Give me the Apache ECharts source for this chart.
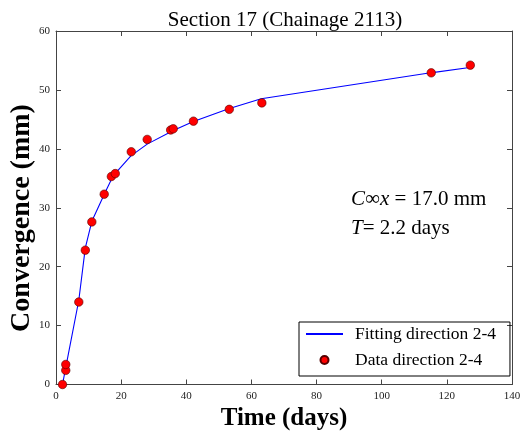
<!DOCTYPE html>
<html>
<head>
<meta charset="utf-8">
<script src="https://cdn.jsdelivr.net/npm/echarts@6/dist/echarts.min.js"></script>
<style>html,body{margin:0;padding:0;background:#fff}#c{width:521px;height:433px}</style>
</head>
<body>
<div id="c"></div>
<script>
// Fitted curve (direction 2-4)
const fitTime = [2, 3, 7, 9, 11, 15, 17, 18, 23, 28, 35, 36, 42, 53, 63, 115, 127];
const fitConv = [0, 2.9, 14.3, 23.2, 27.7, 32.5, 34.8, 35.7, 38.8, 40.8, 42.8, 43.1, 44.6, 46.8, 48.5, 52.9, 53.8];
// Measured data (direction 2-4)
const dataTime = [2, 3, 3, 7, 9, 11, 14.8, 17, 18.2, 23.1, 28, 35.2, 36, 42.2, 53.2, 63.2, 115.2, 127.2];
const dataConv = [0, 2.4, 3.4, 14.0, 22.8, 27.6, 32.3, 35.3, 35.8, 39.5, 41.6, 43.2, 43.4, 44.7, 46.7, 47.8, 52.9, 54.2];
// Axis ranges / ticks
const xMin = 0, xMax = 140, xStep = 20;
const yMin = 0, yMax = 60, yStep = 10;
const titleText = 'Section 17 (Chainage 2113)';
const xName = 'Time (days)';
const yName = 'Convergence (mm)';
const fitName = 'Fitting direction 2-4';
const dataName = 'Data direction 2-4';

const serif = 'Liberation Serif, Times New Roman, serif';
const chart = echarts.init(document.getElementById('c'), null, {renderer: 'canvas'});
const axisLineStyle = {color: '#444', width: 1};
const mkX = (pos, show) => ({
  type: 'value', min: xMin, max: xMax, interval: xStep, position: pos,
  axisLine: {show: true, onZero: false, lineStyle: axisLineStyle},
  axisTick: {show: true, inside: true, length: 5, lineStyle: axisLineStyle},
  axisLabel: {show: show, color: '#222', fontFamily: serif, fontSize: 11, margin: 6},
  splitLine: {show: false}
});
const mkY = (pos, show) => ({
  type: 'value', min: yMin, max: yMax, interval: yStep, position: pos,
  axisLine: {show: true, onZero: false, lineStyle: axisLineStyle},
  axisTick: {show: true, inside: true, length: 5, lineStyle: axisLineStyle},
  axisLabel: {show: show, color: '#222', fontFamily: serif, fontSize: 11, margin: 6},
  splitLine: {show: false}
});
const xa = mkX('bottom', true);
xa.name = xName; xa.nameLocation = 'middle'; xa.nameGap = 19;
xa.nameTextStyle = {fontFamily: serif, fontWeight: 'bold', fontSize: 25, color: '#000'};

chart.setOption({
  animation: false,
  backgroundColor: '#fff',
  title: {text: titleText, left: 280, top: 5, textAlign: 'center',
    textStyle: {fontFamily: serif, fontWeight: 'normal', fontSize: 21, color: '#000'}},
  grid: {left: 56, right: 9, top: 31, bottom: 48.5, containLabel: false, outerBoundsMode: 'none'},
  xAxis: [xa, mkX('top', false)],
  yAxis: [mkY('left', true), mkY('right', false)],
  legend: {
    orient: 'vertical', left: 299, top: 322,
    itemWidth: 37, itemHeight: 8, itemGap: 8,
    padding: [3, 14, 7, 6],
    borderColor: '#000', borderWidth: 1,
    textStyle: {fontFamily: serif, fontSize: 17.5, color: '#000', lineHeight: 18, padding: [0, 0, 0, 7]},
    data: [
      {name: fitName, itemStyle: {color: 'rgba(0,0,0,0)', borderColor: 'rgba(0,0,0,0)', borderWidth: 0}},
      {name: dataName}
    ]
  },
  graphic: [
    {type: 'text', x: 22, y: 218, rotation: Math.PI / 2, style: {
      text: yName, font: 'bold 28px ' + serif, fill: '#000', align: 'center', verticalAlign: 'middle'}},
    {type: 'text', left: 351, top: 189, style: {
      text: '{i|C}∞{i|x} = 17.0 mm', font: '21px ' + serif, fill: '#000',
      rich: {i: {fontStyle: 'italic', fontFamily: serif, fontSize: 21}}}},
    {type: 'text', left: 351, top: 218, style: {
      text: '{i|T}= 2.2 days', font: '21px ' + serif, fill: '#000',
      rich: {i: {fontStyle: 'italic', fontFamily: serif, fontSize: 21}}}}
  ],
  series: [
    {name: fitName, type: 'line', showSymbol: false, symbol: 'none',
     data: fitTime.map((t, i) => [t, fitConv[i]]),
     lineStyle: {color: '#0000ff', width: 1.1}, itemStyle: {color: '#0000ff'}, z: 2},
    {name: dataName, type: 'scatter', symbol: 'circle', symbolSize: 8.5,
     data: dataTime.map((t, i) => [t, dataConv[i]]),
     itemStyle: {color: '#ff0000', borderColor: '#550000', borderWidth: 0.6, opacity: 1}, z: 3}
  ]
});
</script>
</body>
</html>
